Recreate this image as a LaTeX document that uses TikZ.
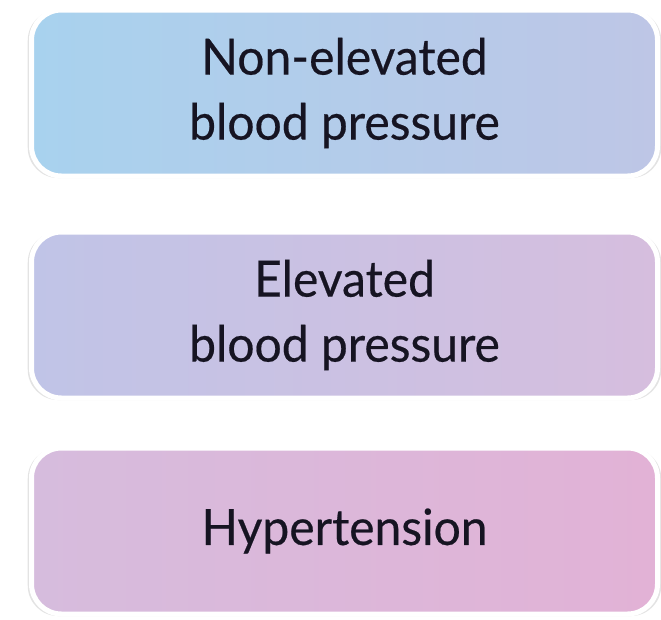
\documentclass[tikz,border=0pt]{standalone}
\usepackage{fontspec}
\setmainfont{Lato}[FakeStretch=0.96,FakeBold=0.4]
\usepackage{tikz}
\usetikzlibrary{shadows}

\definecolor{bpblueL}{RGB}{168,210,238}
\definecolor{bpblueR}{RGB}{190,198,230}
\definecolor{bplilacL}{RGB}{192,196,231}
\definecolor{bplilacR}{RGB}{214,190,222}
\definecolor{bppinkL}{RGB}{214,188,221}
\definecolor{bppinkR}{RGB}{226,178,214}
\definecolor{bptext}{RGB}{22,20,34}

\begin{document}
\begin{tikzpicture}[x=1pt,y=-1pt,
  bpbox/.style={draw=white, line width=5pt, rounded corners=30pt,
    minimum width=626pt, minimum height=166pt, align=center,
    text=bptext, font=\fontsize{50}{65}\selectfont,
    drop shadow={shadow xshift=0pt, shadow yshift=-1pt, shadow scale=1.012,
      opacity=0.18, fill=black!60}}]
\useasboundingbox (0,0) rectangle (661,619);
\fill[white] (0,0) rectangle (661,619);
% the three stages
\node[bpbox, left color=bpblueL, right color=bpblueR] (nonelev) at (344.5,93) {Non-elevated\\blood pressure};
\node[bpbox, left color=bplilacL, right color=bplilacR] (elev) at (344.5,315) {Elevated\\blood pressure};
\node[bpbox, left color=bppinkL, right color=bppinkR] (hyper) at (344.5,531) {Hypertension};
\end{tikzpicture}
\end{document}
